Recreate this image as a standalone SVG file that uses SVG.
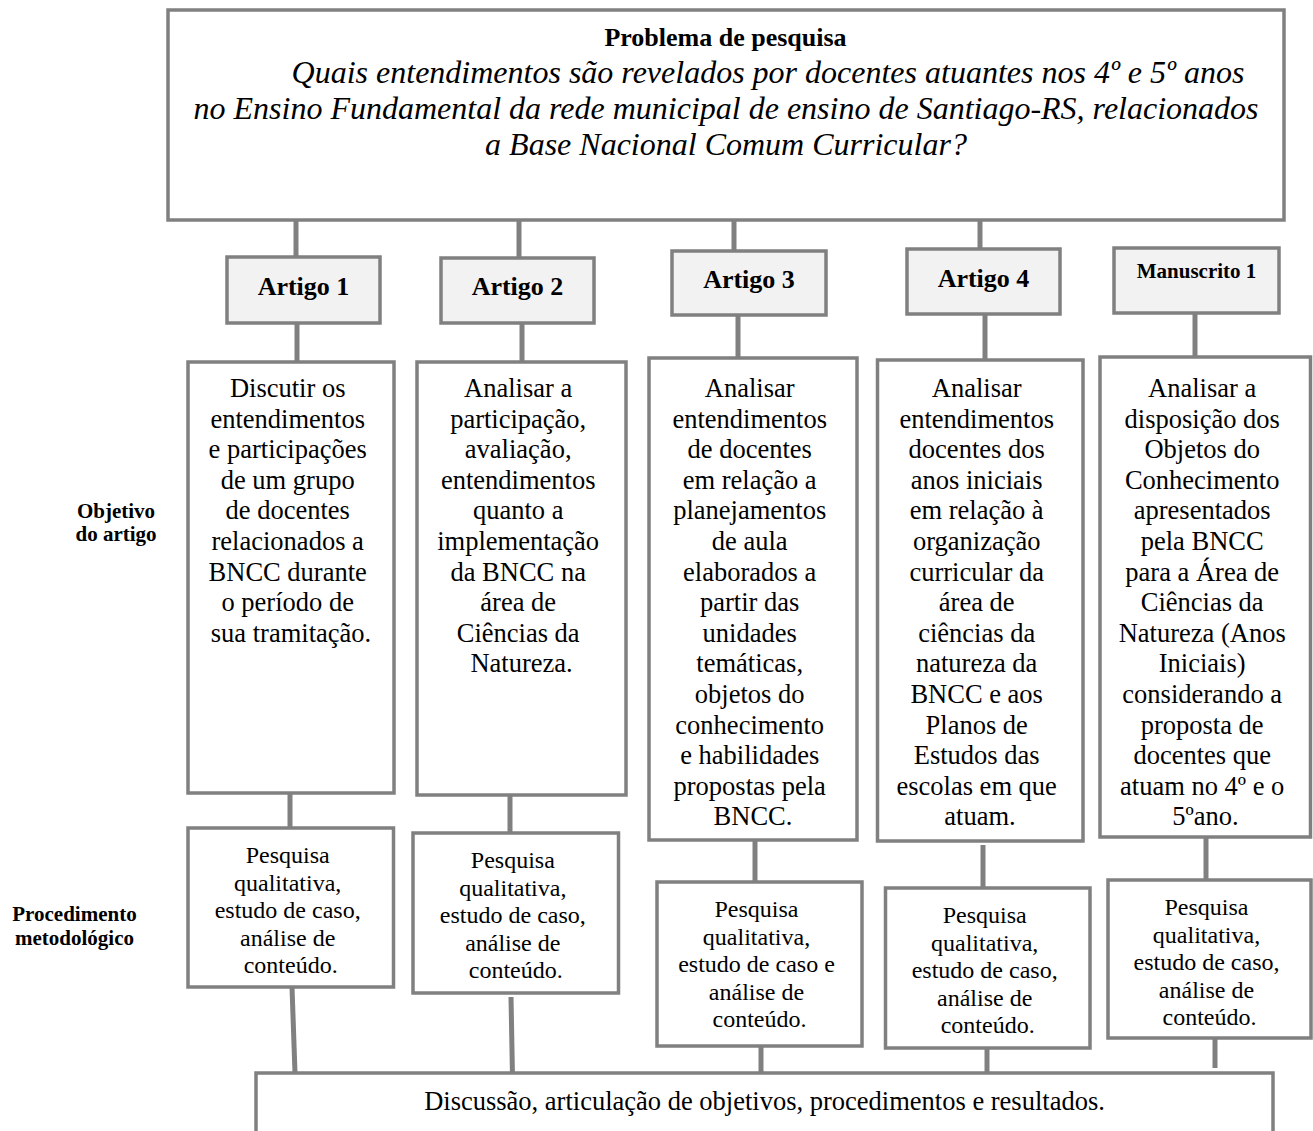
<svg xmlns="http://www.w3.org/2000/svg" width="1313" height="1131" viewBox="0 0 1313 1131">
<style>
.box{fill:#ffffff;stroke:#808080;stroke-width:3.5}
.hdr{fill:#f2f2f2;stroke:#808080;stroke-width:3.5}
.conn line{stroke:#808080;stroke-width:5}
text{font-family:"Liberation Serif","Times New Roman",serif;fill:#000000;text-anchor:middle}
.b{font-weight:bold}
.it{font-style:italic;font-size:32px}
.art{font-weight:bold;font-size:26px}
.obj{font-size:26.5px}
.met{font-size:24px}
.lab{font-weight:bold;font-size:21px}
</style>
<rect width="1313" height="1131" fill="#ffffff"/>
<g id="connectors" class="conn">
<line x1="296" y1="220" x2="296" y2="257"/>
<line x1="519" y1="220" x2="519" y2="258"/>
<line x1="734" y1="220" x2="734" y2="251"/>
<line x1="980" y1="220" x2="980" y2="249"/>
<line x1="297" y1="323" x2="297" y2="362"/>
<line x1="522" y1="323" x2="522" y2="362"/>
<line x1="738" y1="315" x2="738" y2="358"/>
<line x1="985" y1="314" x2="985" y2="360"/>
<line x1="1195" y1="313" x2="1195" y2="357"/>
<line x1="290" y1="793" x2="290" y2="828"/>
<line x1="510" y1="795" x2="510" y2="833"/>
<line x1="755" y1="840" x2="755" y2="882"/>
<line x1="983" y1="845" x2="983" y2="888"/>
<line x1="1206" y1="837" x2="1206" y2="880"/>
<line x1="292" y1="987" x2="295" y2="1073"/>
<line x1="511" y1="997" x2="512.5" y2="1077"/>
<line x1="761" y1="1046" x2="761" y2="1075"/>
<line x1="987" y1="1048" x2="987" y2="1077"/>
<line x1="1215" y1="1038" x2="1215" y2="1068"/>
</g>
<g id="problema">
<rect class="box" x="168" y="10" width="1116" height="210"/>
<text class="b" font-size="26" x="725.5" y="46">Problema de pesquisa</text>
<text class="it" x="768" y="83">Quais entendimentos são revelados por docentes atuantes nos 4º e 5º anos</text>
<text class="it" x="726" y="119">no Ensino Fundamental da rede municipal de ensino de Santiago-RS, relacionados</text>
<text class="it" x="726" y="155">a Base Nacional Comum Curricular?</text>
</g>
<g id="label-objetivo">
<text class="lab" x="116" y="518">Objetivo</text>
<text class="lab" x="116" y="541">do artigo</text>
</g>
<g id="label-procedimento">
<text class="lab" x="74.5" y="921">Procedimento</text>
<text class="lab" x="74.5" y="945">metodológico</text>
</g>
<g id="artigo1">
<rect class="hdr" x="227" y="257" width="153" height="66"/>
<text class="art" x="303.5" y="295">Artigo 1</text>
</g>
<g id="artigo2">
<rect class="hdr" x="441" y="258" width="153" height="65"/>
<text class="art" x="517.5" y="295">Artigo 2</text>
</g>
<g id="artigo3">
<rect class="hdr" x="672" y="251" width="154" height="64"/>
<text class="art" x="749" y="288">Artigo 3</text>
</g>
<g id="artigo4">
<rect class="hdr" x="907" y="249" width="153" height="65"/>
<text class="art" x="983.5" y="287">Artigo 4</text>
</g>
<g id="manuscrito1">
<rect class="hdr" x="1114" y="248" width="165" height="65"/>
<text class="b" font-size="21" x="1196.5" y="278">Manuscrito 1</text>
</g>
<g id="objetivo1">
<rect class="box" x="188" y="362" width="206" height="431"/>
<text class="obj">
<tspan x="291" y="397">Discutir os</tspan>
<tspan x="291" y="427.6">entendimentos</tspan>
<tspan x="291" y="458.2">e participações</tspan>
<tspan x="291" y="488.8">de um grupo</tspan>
<tspan x="291" y="519.4">de docentes</tspan>
<tspan x="291" y="550">relacionados a</tspan>
<tspan x="291" y="580.6">BNCC durante</tspan>
<tspan x="291" y="611.2">o período de</tspan>
<tspan x="291" y="641.8">sua tramitação.</tspan>
</text>
</g>
<g id="objetivo2">
<rect class="box" x="417" y="362" width="209" height="433"/>
<text class="obj">
<tspan x="521.5" y="397">Analisar a</tspan>
<tspan x="521.5" y="427.6">participação,</tspan>
<tspan x="521.5" y="458.2">avaliação,</tspan>
<tspan x="521.5" y="488.8">entendimentos</tspan>
<tspan x="521.5" y="519.4">quanto a</tspan>
<tspan x="521.5" y="550">implementação</tspan>
<tspan x="521.5" y="580.6">da BNCC na</tspan>
<tspan x="521.5" y="611.2">área de</tspan>
<tspan x="521.5" y="641.8">Ciências da</tspan>
<tspan x="521.5" y="672.4">Natureza.</tspan>
</text>
</g>
<g id="objetivo3">
<rect class="box" x="649" y="358" width="208" height="482"/>
<text class="obj">
<tspan x="753" y="397">Analisar</tspan>
<tspan x="753" y="427.6">entendimentos</tspan>
<tspan x="753" y="458.2">de docentes</tspan>
<tspan x="753" y="488.8">em relação a</tspan>
<tspan x="753" y="519.4">planejamentos</tspan>
<tspan x="753" y="550">de aula</tspan>
<tspan x="753" y="580.6">elaborados a</tspan>
<tspan x="753" y="611.2">partir das</tspan>
<tspan x="753" y="641.8">unidades</tspan>
<tspan x="753" y="672.4">temáticas,</tspan>
<tspan x="753" y="703">objetos do</tspan>
<tspan x="753" y="733.6">conhecimento</tspan>
<tspan x="753" y="764.2">e habilidades</tspan>
<tspan x="753" y="794.8">propostas pela</tspan>
<tspan x="753" y="825.4">BNCC.</tspan>
</text>
</g>
<g id="objetivo4">
<rect class="box" x="877.5" y="360" width="205.5" height="481"/>
<text class="obj">
<tspan x="980" y="397">Analisar</tspan>
<tspan x="980" y="427.6">entendimentos</tspan>
<tspan x="980" y="458.2">docentes dos</tspan>
<tspan x="980" y="488.8">anos iniciais</tspan>
<tspan x="980" y="519.4">em relação à</tspan>
<tspan x="980" y="550">organização</tspan>
<tspan x="980" y="580.6">curricular da</tspan>
<tspan x="980" y="611.2">área de</tspan>
<tspan x="980" y="641.8">ciências da</tspan>
<tspan x="980" y="672.4">natureza da</tspan>
<tspan x="980" y="703">BNCC e aos</tspan>
<tspan x="980" y="733.6">Planos de</tspan>
<tspan x="980" y="764.2">Estudos das</tspan>
<tspan x="980" y="794.8">escolas em que</tspan>
<tspan x="980" y="825.4">atuam.</tspan>
</text>
</g>
<g id="objetivo5">
<rect class="box" x="1100" y="357" width="210.5" height="480"/>
<text class="obj">
<tspan x="1205.5" y="397">Analisar a</tspan>
<tspan x="1205.5" y="427.6">disposição dos</tspan>
<tspan x="1205.5" y="458.2">Objetos do</tspan>
<tspan x="1205.5" y="488.8">Conhecimento</tspan>
<tspan x="1205.5" y="519.4">apresentados</tspan>
<tspan x="1205.5" y="550">pela BNCC</tspan>
<tspan x="1205.5" y="580.6">para a Área de</tspan>
<tspan x="1205.5" y="611.2">Ciências da</tspan>
<tspan x="1205.5" y="641.8">Natureza (Anos</tspan>
<tspan x="1205.5" y="672.4">Iniciais)</tspan>
<tspan x="1205.5" y="703">considerando a</tspan>
<tspan x="1205.5" y="733.6">proposta de</tspan>
<tspan x="1205.5" y="764.2">docentes que</tspan>
<tspan x="1205.5" y="794.8">atuam no 4º e o</tspan>
<tspan x="1205.5" y="825.4">5ºano.</tspan>
</text>
</g>
<g id="metodo1">
<rect class="box" x="188" y="828" width="205.5" height="159"/>
<text class="met">
<tspan x="290.7" y="863">Pesquisa</tspan>
<tspan x="290.7" y="890.5">qualitativa,</tspan>
<tspan x="290.7" y="918">estudo de caso,</tspan>
<tspan x="290.7" y="945.5">análise de</tspan>
<tspan x="290.7" y="973">conteúdo.</tspan>
</text>
</g>
<g id="metodo2">
<rect class="box" x="413" y="833" width="205.5" height="160"/>
<text class="met">
<tspan x="515.8" y="868">Pesquisa</tspan>
<tspan x="515.8" y="895.5">qualitativa,</tspan>
<tspan x="515.8" y="923">estudo de caso,</tspan>
<tspan x="515.8" y="950.5">análise de</tspan>
<tspan x="515.8" y="978">conteúdo.</tspan>
</text>
</g>
<g id="metodo3">
<rect class="box" x="657" y="882" width="205" height="164"/>
<text class="met">
<tspan x="759.5" y="917">Pesquisa</tspan>
<tspan x="759.5" y="944.5">qualitativa,</tspan>
<tspan x="759.5" y="972">estudo de caso e</tspan>
<tspan x="759.5" y="999.5">análise de</tspan>
<tspan x="759.5" y="1027">conteúdo.</tspan>
</text>
</g>
<g id="metodo4">
<rect class="box" x="885.5" y="888" width="204.5" height="160"/>
<text class="met">
<tspan x="987.7" y="923">Pesquisa</tspan>
<tspan x="987.7" y="950.5">qualitativa,</tspan>
<tspan x="987.7" y="978">estudo de caso,</tspan>
<tspan x="987.7" y="1005.5">análise de</tspan>
<tspan x="987.7" y="1033">conteúdo.</tspan>
</text>
</g>
<g id="metodo5">
<rect class="box" x="1108" y="880" width="203" height="158"/>
<text class="met">
<tspan x="1209.5" y="915">Pesquisa</tspan>
<tspan x="1209.5" y="942.5">qualitativa,</tspan>
<tspan x="1209.5" y="970">estudo de caso,</tspan>
<tspan x="1209.5" y="997.5">análise de</tspan>
<tspan x="1209.5" y="1025">conteúdo.</tspan>
</text>
</g>
<g id="discussao">
<rect class="box" x="256" y="1073" width="1017" height="90"/>
<text font-size="26.5" x="764.5" y="1110">Discussão, articulação de objetivos, procedimentos e resultados.</text>
</g>
</svg>
